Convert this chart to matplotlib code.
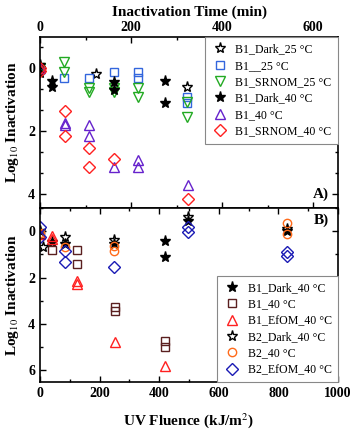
import matplotlib
matplotlib.use("Agg")
import matplotlib.pyplot as plt
from matplotlib.ticker import MultipleLocator, AutoMinorLocator

plt.rcParams['font.family'] = ['Liberation Serif', 'DejaVu Serif']
plt.rcParams['mathtext.fontset'] = 'stix'

# ---- panel A: inactivation time (min) vs log10 inactivation ----
a_dark25_t = [0, 123, 323]
a_dark25_y = [0.0, 0.2, 0.59]
a_b1_25_t = [0, 53, 108, 163, 216, 216, 323, 323]
a_b1_25_y = [0.05, 0.33, 0.32, 0.13, 0.14, 0.33, 0.91, 1.11]
a_srnom25_t = [0, 53, 53, 108, 108, 163, 163, 216, 216, 323, 323]
a_srnom25_y = [0.0, -0.2, 0.14, 0.63, 0.76, 0.63, 0.75, 0.64, 0.92, 1.07, 1.55]
a_dark40_t = [0, 0, 26, 26, 163, 163, 275, 275]
a_dark40_y = [-0.1, 0.15, 0.41, 0.6, 0.44, 0.7, 0.4, 1.11]
a_b1_40_t = [0, 55, 55, 108, 108, 163, 216, 216, 325]
a_b1_40_y = [0.0, 1.75, 1.82, 1.81, 2.16, 3.13, 2.92, 3.15, 3.71]
a_srnom40_t = [0, 0, 55, 55, 108, 108, 163, 325]
a_srnom40_y = [0.0, 0.1, 1.37, 2.16, 2.55, 3.14, 2.89, 4.16]

# ---- panel B: UV fluence (kJ/m2) vs log10 inactivation ----
b_b1dark_f = [0, 40, 83, 249, 418, 418, 498, 828]
b_b1dark_y = [0.0, 0.45, 0.55, 0.55, 0.43, 1.12, -0.45, 0.0]
b_b1_40_f = [0, 40, 124, 124, 252, 252, 421, 421]
b_b1_40_y = [0.1, 0.8, 0.8, 1.4, 3.3, 3.45, 4.77, 5.03]
b_b1efom_f = [0, 40, 40, 124, 124, 252, 421]
b_b1efom_y = [0.1, 0.2, 0.33, 2.15, 2.3, 4.8, 5.86]
b_b2dark_f = [10, 83, 249, 498, 828]
b_b2dark_y = [0.68, 0.25, 0.38, -0.62, -0.1]
b_b2_40_f = [0, 83, 249, 249, 828, 828]
b_b2_40_y = [0.05, 0.68, 0.65, 0.85, -0.36, 0.1]
b_b2efom_f = [0, 0, 83, 83, 249, 498, 498, 828, 828]
b_b2efom_y = [-0.2, 0.25, 0.85, 1.33, 1.55, -0.2, 0.03, 0.9, 1.06]

fig = plt.figure(figsize=(3.54, 4.36), dpi=100)
axA = fig.add_axes([0.113, 0.522, 0.842, 0.393])
axB = fig.add_axes([0.113, 0.123, 0.842, 0.399])

kw = dict(linestyle='none', markerfacecolor='none', markeredgewidth=1.0)
axA.plot(a_dark25_t, a_dark25_y, marker='*', ms=8, color='black', label='B1_Dark_25 \u00b0C', **kw)
axA.plot(a_b1_25_t, a_b1_25_y, marker='s', ms=5.5, color='#3366dd', label='B1__25 \u00b0C', **kw)
axA.plot(a_srnom25_t, a_srnom25_y, marker='v', ms=7, color='#22aa22', label='B1_SRNOM_25 \u00b0C', **kw)
axA.plot(a_dark40_t, a_dark40_y, marker='*', ms=8, color='black', linestyle='none',
         label='B1_Dark_40 \u00b0C')
axA.plot(a_b1_40_t, a_b1_40_y, marker='^', ms=7, color='#6622cc', label='B1_40 \u00b0C', **kw)
axA.plot(a_srnom40_t, a_srnom40_y, marker='D', ms=6, color='#ff2020', label='B1_SRNOM_40 \u00b0C', **kw)

axB.plot(b_b1dark_f, b_b1dark_y, marker='*', ms=8, color='black', linestyle='none',
         label='B1_Dark_40 \u00b0C')
axB.plot(b_b1_40_f, b_b1_40_y, marker='s', ms=5.5, color='#5a1f1f', label='B1_40 \u00b0C', **kw)
axB.plot(b_b1efom_f, b_b1efom_y, marker='^', ms=7, color='#ff2020', label='B1_EfOM_40 \u00b0C', **kw)
axB.plot(b_b2dark_f, b_b2dark_y, marker='*', ms=8, color='black', label='B2_Dark_40 \u00b0C', **kw)
axB.plot(b_b2_40_f, b_b2_40_y, marker='o', ms=6, color='#ff6a1a', label='B2_40 \u00b0C', **kw)
axB.plot(b_b2efom_f, b_b2efom_y, marker='D', ms=6, color='#1a1ab4', label='B2_EfOM_40 \u00b0C', **kw)

axA.set_xlim(0, 655)
axA.set_ylim(4.45, -0.98)
axB.set_xlim(0, 1000)
axB.set_ylim(6.55, -1.0)

for ax in (axA, axB):
    for s in ax.spines.values():
        s.set_linewidth(1.2)
    ax.tick_params(which='both', direction='in', top=True, right=True, width=1.0)
    ax.tick_params(which='major', length=4, labelsize=10)
    ax.tick_params(which='minor', length=2.5)
    ax.xaxis.set_major_locator(MultipleLocator(200))
    ax.xaxis.set_minor_locator(MultipleLocator(100))
    ax.yaxis.set_major_locator(MultipleLocator(2))
    for lab in ax.get_xticklabels() + ax.get_yticklabels():
        lab.set_fontweight('bold')
    ax.set_ylabel('Log$_{10}$ Inactivation', fontsize=11, fontweight='bold', labelpad=5)

axA.yaxis.set_minor_locator(AutoMinorLocator(3))
axB.yaxis.set_minor_locator(MultipleLocator(1))
axA.tick_params(axis='x', labeltop=True, labelbottom=False, pad=2)
axA.xaxis.set_label_position('top')
axA.set_xlabel('Inactivation Time (min)', fontsize=11, fontweight='bold', labelpad=4)
axB.set_xlabel('UV Fluence (kJ/m$^{2}$)', fontsize=11, fontweight='bold', labelpad=8)
for lab in axA.get_xticklabels():
    lab.set_fontweight('bold')

legkw = dict(fontsize=8.6, numpoints=1, fancybox=False, framealpha=1, edgecolor='#888888',
             borderaxespad=0, handletextpad=0.6, labelspacing=0.36, borderpad=0.55,
             handlelength=1.4)
legA = axA.legend(loc='upper right', **legkw)
legB = axB.legend(loc='lower right', **legkw)
for leg in (legA, legB):
    leg.get_frame().set_linewidth(0.8)

axA.text(0.97, 0.08, 'A)', transform=axA.transAxes, ha='right', va='center',
         fontsize=11, fontweight='bold')
axB.text(0.97, 0.93, 'B)', transform=axB.transAxes, ha='right', va='center',
         fontsize=11, fontweight='bold')

fig.savefig('out.png', dpi=100)
